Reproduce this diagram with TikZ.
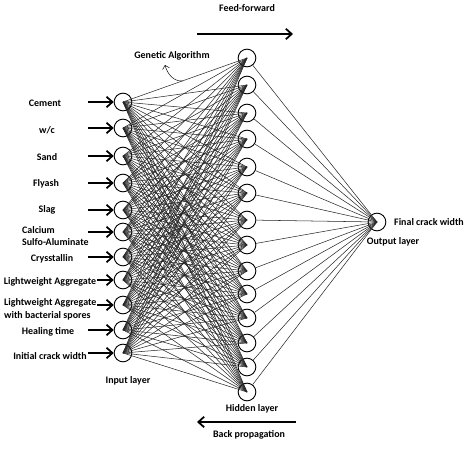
\documentclass[tikz,border=0pt]{standalone}
\usepackage{fontspec}
\setmainfont{Carlito}
\usetikzlibrary{arrows.meta}

\begin{document}
\begin{tikzpicture}[x=0.03cm,y=-0.03cm,font=\fontsize{8.5}{11}\selectfont\bfseries]
    \tikzstyle{neuron}=[circle,draw,line width=0.8pt,minimum size=0.53cm,inner sep=0pt]
    \tikzstyle{link}=[line width=0.45pt,black!85]
    \tikzstyle{flow}=[line width=1.5pt,-{Straight Barb[length=5pt,width=9pt]}]
    \useasboundingbox (0,0) rectangle (474,450);

    % input layer
    \foreach \y/\s [count=\i] in {102/88,128/88,156/88,183/88,210/88,232/88,257/88,280/97,305/97,330/88,353/88} {
        \node[neuron] (i\i) at (123,\y) {};
        \coordinate (s\i) at (\s,\y);
        \draw[flow] (s\i) -- (i\i);
    }
    % hidden layer
    \foreach \y [count=\j] in {58,85,113,139,167,193,220,245,271,294,318,343,367,392}
        \node[neuron] (h\j) at (247,\y) {};
    % output layer
    \node[neuron] (o) at (377,222) {};

    % weights
    \foreach \i in {1,...,11}
        \foreach \j in {1,...,14}
            \draw[link] (i\i.center) -- (h\j.center);
    \foreach \j in {1,...,14}
        \draw[link] (h\j) -- (o.center);

    % inputs
    \node (cement) at (45,103) {Cement};
    \node (wc) at (47,130) {w/c};
    \node (sand) at (47,157) {Sand};
    \node (flyash) at (46,184) {Flyash};
    \node (slag) at (47,210) {Slag};
    \node[align=left,anchor=west] (csa) at (18,236) {Calcium\\Sulfo-Aluminate};
    \node (crys) at (52,259) {Crysstallin};
    \node (lwa) at (50,282) {Lightweight Aggregate};
    \node[align=left,anchor=west] (lwab) at (0,309) {Lightweight Aggregate\\with bacterial spores};
    \node (heal) at (48,332) {Healing time};
    \node (crack) at (50,356) {Initial crack width};

    % layer names
    \node (inl) at (128,381) {Input layer};
    \node (hidl) at (252,409) {Hidden layer};
    \node (outl) at (393,242) {Output layer};
    \node (final) at (429,222) {Final crack width};

    % genetic algorithm
    \node (ga) at (172,56) {Genetic Algorithm};
    \coordinate (gap) at (183,81);
    \draw[line width=0.4pt,-{Straight Barb[length=3pt,width=6pt]}] (gap) to[out=185,in=-75] (165,65);

    % directions
    \node (ff) at (247,8) {Feed-forward};
    \coordinate (ff1) at (197,34);
    \coordinate (ff2) at (293,34);
    \draw[flow] (ff1) -- (ff2);
    \node (bp) at (249,435) {Back propagation};
    \coordinate (bp1) at (296,422);
    \coordinate (bp2) at (197,422);
    \draw[flow] (bp1) -- (bp2);
\end{tikzpicture}
\end{document}
